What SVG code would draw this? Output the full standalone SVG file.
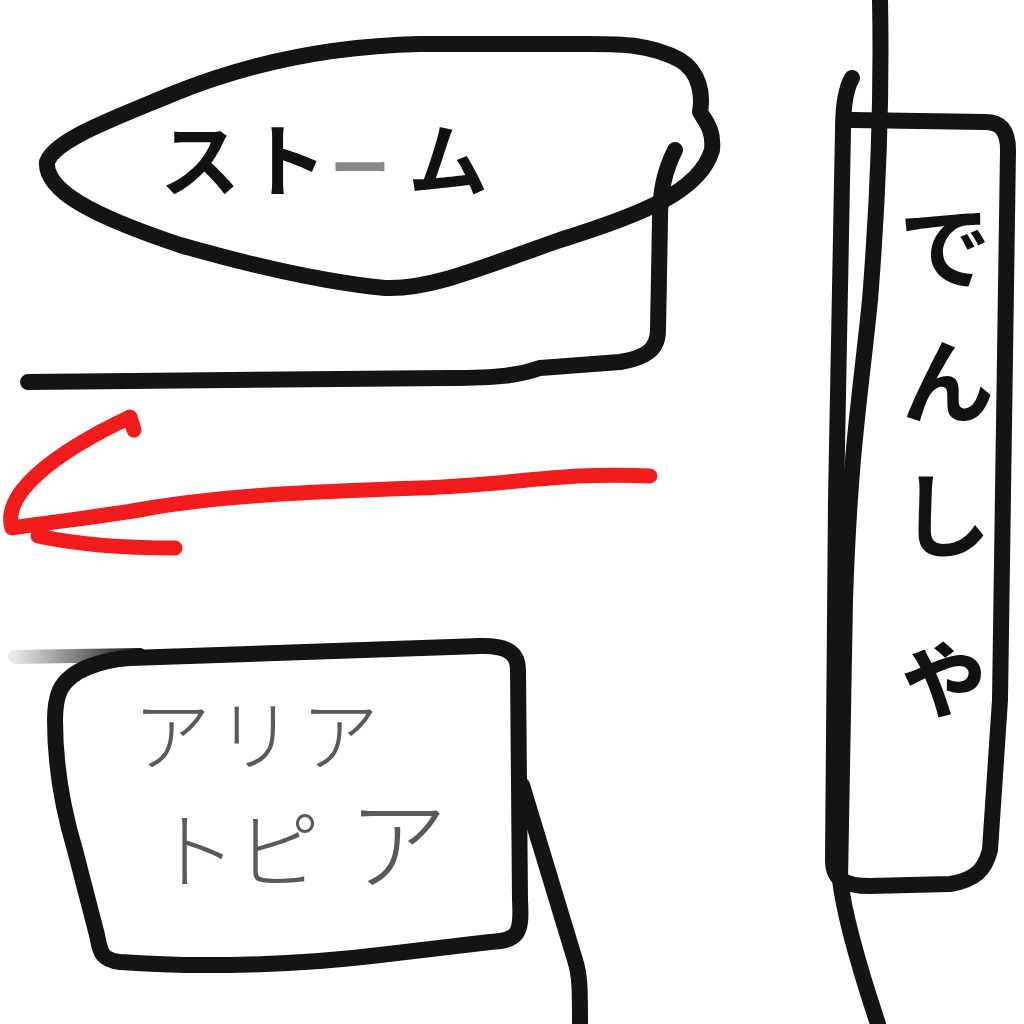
<svg xmlns="http://www.w3.org/2000/svg" width="1024" height="1024" viewBox="0 0 1024 1024">
<style>
.ink{fill:none;stroke:#141414;stroke-width:16;stroke-linecap:round;stroke-linejoin:round}
.red{fill:none;stroke:#f21c1c;stroke-width:15;stroke-linecap:round;stroke-linejoin:round}
.jp{font-family:"Noto Sans CJK JP","Noto Sans",sans-serif;text-anchor:middle}
.bold{fill:#111;font-weight:700}
.gray{fill:#5a5a5a;font-weight:300}
</style>
<defs>
<linearGradient id="fade" x1="15" y1="0" x2="140" y2="0" gradientUnits="userSpaceOnUse">
<stop offset="0" stop-color="#141414" stop-opacity="0.1"/>
<stop offset="1" stop-color="#141414" stop-opacity="1"/>
</linearGradient>
</defs>
<rect width="1024" height="1024" fill="#ffffff"/>

<g id="connectors">
<path class="ink" d="M675,150 C665,170 660,190 660,220 L658,330 C658,350 645,358 620,362 L540,368 C520,375 500,378 450,378 L28,382"/>
<path class="red" d="M650,476 C560,472 520,484 420,488 C300,492 220,496 150,508 C100,517 50,522 12,528 C2,495 50,455 130,417 L134,430 M38,536 C80,545 130,548 175,548"/>
<path class="ink" d="M522,785 L575,960 C580,975 580,990 580,1024"/>
<path class="ink" d="M880,0 C882,100 878,200 870,300 C860,400 850,450 845,600 L840,880 C845,920 860,970 878,1024"/>
</g>

<g id="node-storm">
<path class="ink" d="M700,112 C703,95 700,72 680,60 C650,44 620,44 590,44 L420,44 C330,46 250,62 170,95 C110,120 55,140 47,162 C45,190 90,215 180,245 C250,265 320,282 385,288 C430,290 480,268 560,240 C640,215 700,192 712,150 C714,130 706,122 700,112"/>
<text class="jp bold" y="190" font-size="80"><tspan x="200">ス</tspan><tspan x="287">ト</tspan><tspan x="360" fill-opacity="0.5" font-size="60">ー</tspan><tspan x="448">ム</tspan></text>
</g>

<g id="node-atopia">
<path stroke="url(#fade)" stroke-width="14" fill="none" stroke-linecap="round" d="M15,657 L140,655"/>
<path class="ink" d="M60,690 C70,670 100,660 130,658 L480,646 C510,645 518,655 518,670 L520,900 C522,935 518,940 490,942 L380,955 C300,965 200,968 120,962 C100,960 100,950 97,935 L75,850 C60,800 55,760 55,720 C55,705 57,697 60,690 Z"/>
<text class="jp gray" font-size="78"><tspan x="172" y="765">ア</tspan><tspan x="255" y="765">リ</tspan><tspan x="340" y="765">ア</tspan></text>
<text class="jp gray" font-size="84"><tspan x="195" y="882">ト</tspan><tspan x="278" y="882">ピ</tspan><tspan x="398" y="882" font-size="100">ア</tspan></text>
</g>

<g id="node-densha">
<path class="ink" d="M852,78 C845,90 843,110 843,130 L836,500 L833,860 C833,880 845,886 870,886 L950,884 C975,880 985,870 990,850 L1000,700 L1008,150 C1008,130 1000,122 985,122 L852,120"/>
<text class="jp bold" font-size="92" x="945" y="282">で</text>
<text class="jp bold" font-size="92" x="948" y="416">ん</text>
<text class="jp bold" font-size="92" x="945" y="550">し</text>
<text class="jp bold" font-size="100" x="945" y="708">ゃ</text>
</g>
</svg>
